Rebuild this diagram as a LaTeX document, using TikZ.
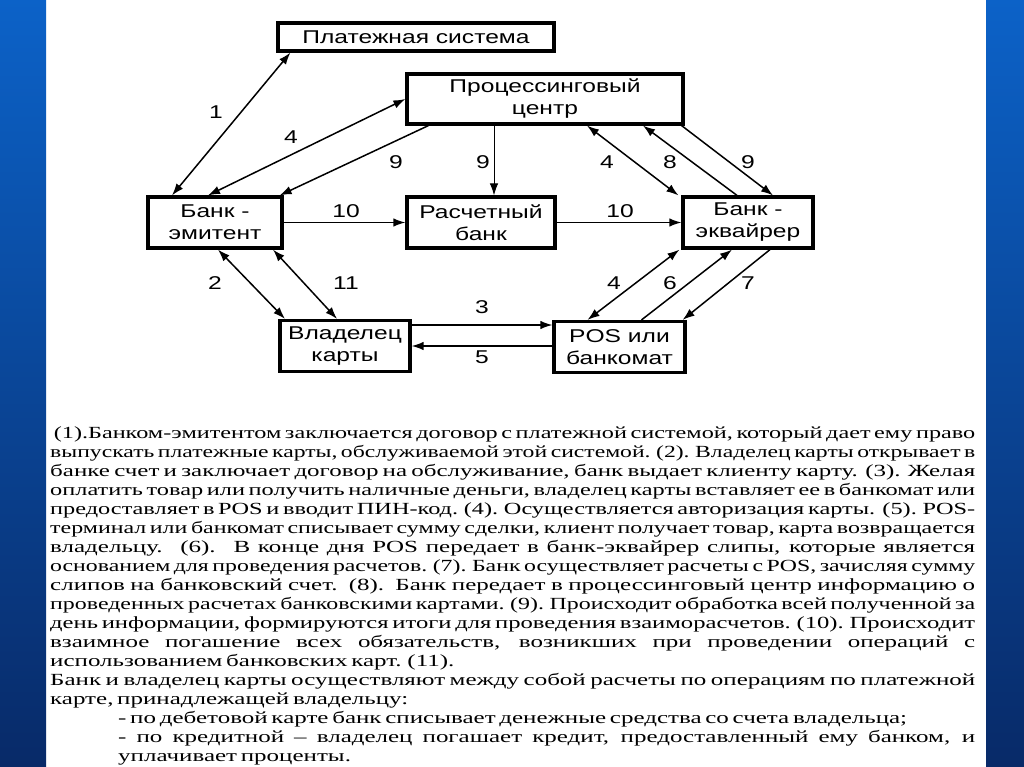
\documentclass[tikz,border=0pt]{standalone}
\usepackage{graphicx}
\usepackage{fontspec}
\newfontfamily\diagfont[FakeStretch=1.33]{Liberation Sans}
\newfontfamily\bodyfont[FakeStretch=1.47, WordSpace=0.6]{Liberation Serif}
\usetikzlibrary{arrows.meta, positioning}
\definecolor{slideblue}{RGB}{12,98,200}
\definecolor{slidedark}{RGB}{8,42,104}
\newsavebox\linebox
\newcommand{\txtline}[1]{\sbox\linebox{#1}%
  \ifdim\wd\linebox>925pt\resizebox{925pt}{\height}{\usebox\linebox}%
  \else\makebox[925pt][s]{#1}\fi}

\begin{document}
\begin{tikzpicture}[x=1pt, y=-1pt,
  every node/.style={font=\diagfont\fontsize{18.5}{22}\selectfont},
  box/.style={rectangle, draw=black, line width=3.2pt, fill=white, align=center,
    inner sep=0pt, minimum width=#1, minimum height=51pt},
  box/.default=130pt,
  lbl/.style={inner sep=0pt},
  arr/.style={-{Latex[length=12pt,width=8.5pt]}, line width=1.5pt},
  dblarr/.style={{Latex[length=12pt,width=8.5pt]}-{Latex[length=12pt,width=8.5pt]}, line width=1.5pt},
  bodytext/.style={font=\bodyfont\fontsize{17}{19}\selectfont, align=left, inner sep=0pt}
]
\useasboundingbox (0,0) rectangle (1024,767);

% ---- SLIDE ----
\fill[white] (0,0) rectangle (1024,767);
\shade[top color=slideblue, bottom color=slidedark] (0,0) rectangle (46,767);
\shade[top color=slideblue, bottom color=slidedark] (986,0) rectangle (1024,767);

% ---- BLOCKS ----
\node[box=276pt, minimum height=28pt] (paysys) at (416,37) {Платежная система};
\node[box=276pt, minimum height=50pt] (proc) at (545,99) {Процессинговый\\центр};
\node[box=134pt] (emit) at (215,222.5) {Банк -\\эмитент};
\node[box=148pt] (settle) at (481,222.5) {Расчетный\\банк};
\node[box=130pt] (acq) at (748,222.5) {Банк -\\эквайрер};
\node[box=130pt] (holder) at (345,346) {Владелец\\карты};
\node[box=131pt] (pos) at (619.5,347) {POS или\\банкомат};

% ---- ISSUER SIDE ----
\draw[dblarr] ([xshift=-43pt]emit.north) -- ([xshift=14pt]paysys.south west);
\draw[dblarr] ([xshift=-7pt]emit.north) -- (proc.west);
\draw[arr] ([xshift=23pt]proc.south west) -- ([xshift=-4pt]emit.north east);
\draw[dblarr] ([xshift=3pt]emit.south) -- ([xshift=-60pt]holder.north);
\draw[dblarr] ([xshift=58pt]emit.south) -- ([xshift=-8pt]holder.north);

% ---- SETTLEMENT ----
\coordinate (mid9) at ([xshift=13pt]settle.north);
\draw[arr, line width=1pt] (mid9 |- proc.south) -- (mid9);
\draw[arr] (emit.east) -- (settle.west);
\draw[arr] (settle.east) -- (acq.west);

% ---- ACQUIRER SIDE ----
\draw[dblarr] ([xshift=42pt]proc.south) -- ([xshift=-3pt]acq.north west);
\draw[arr] ([xshift=-11pt]acq.north) -- ([xshift=98pt]proc.south);
\draw[arr] ([xshift=-3pt]proc.south east) -- ([xshift=25pt]acq.north);
\draw[dblarr] ([xshift=-2pt]acq.south west) -- ([xshift=-32pt]pos.north);
\draw[arr] ([xshift=22pt]pos.north) -- ([xshift=-16pt]acq.south);
\draw[arr] ([xshift=22pt]acq.south) -- ([xshift=-4pt]pos.north east);

% ---- CARD HOLDER / POS ----
\coordinate (h3) at ([yshift=21pt]holder.east);
\draw[arr] (h3) -- (h3 -| pos.west);
\draw[arr] (pos.west |- holder.east) -- (holder.east);

% ---- LABELS ----
\node[lbl] (l1) at (216,112) {1};
\node[lbl] (l4a) at (291,137) {4};
\node[lbl] (l9a) at (396,162) {9};
\node[lbl] (l9b) at (483,162) {9};
\node[lbl] (l10a) at (346,211) {10};
\node[lbl] (l10b) at (620,211) {10};
\node[lbl] (l4b) at (607,162) {4};
\node[lbl] (l8) at (670,162) {8};
\node[lbl] (l9c) at (748,162) {9};
\node[lbl] (l2) at (215,283) {2};
\node[lbl] (l11) at (346,283) {11};
\node[lbl] (l3) at (482,307) {3};
\node[lbl] (l5) at (482,357) {5};
\node[lbl] (l4c) at (614,283) {4};
\node[lbl] (l6) at (670,283) {6};
\node[lbl] (l7) at (748,283) {7};

% ---- DESCRIPTION ----
\node[bodytext, anchor=north west] (descr) at (50,426) {%
\txtline{\ (1).Банком-эмитентом заключается договор с платежной системой, который дает ему право}\\
\txtline{выпускать платежные карты, обслуживаемой этой системой. (2). Владелец карты открывает в}\\
\txtline{банке счет и заключает договор на обслуживание, банк выдает клиенту карту. (3). Желая}\\
\txtline{оплатить товар или получить наличные деньги, владелец карты вставляет ее в банкомат или}\\
\txtline{предоставляет в POS и вводит ПИН-код. (4). Осуществляется авторизация карты.\ \ (5). POS-}\\
\txtline{терминал или банкомат списывает сумму сделки, клиент получает товар, карта возвращается}\\
\txtline{владельцу. (6). В конце дня POS передает в банк-эквайрер слипы, которые является}\\
\txtline{основанием для проведения расчетов. (7). Банк осуществляет расчеты с POS, зачисляя сумму}\\
\txtline{слипов на банковский счет. (8). Банк передает в процессинговый центр информацию о}\\
\txtline{проведенных расчетах банковскими картами. (9). Происходит обработка всей полученной за}\\
\txtline{день информации, формируются итоги для проведения взаиморасчетов. (10). Происходит}\\
\txtline{взаимное погашение всех обязательств, возникших при проведении операций с}\\
использованием банковских карт. (11).\\
\txtline{Банк и владелец карты осуществляют между собой расчеты по операциям по платежной}\\
карте, принадлежащей владельцу:\\
\hspace*{68pt}- по дебетовой карте банк списывает денежные средства со счета владельца;\\
\hspace*{68pt}\makebox[857pt][s]{- по кредитной – владелец погашает кредит, предоставленный ему банком, и}\\
\hspace*{68pt}уплачивает проценты.};
\end{tikzpicture}
\end{document}
